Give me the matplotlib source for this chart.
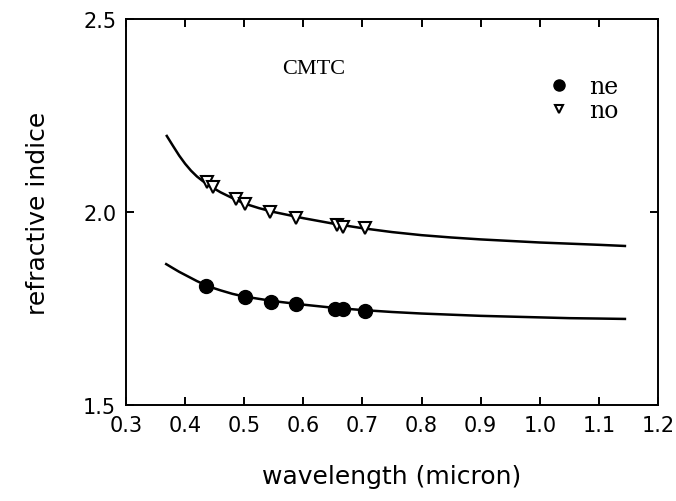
import matplotlib
matplotlib.use('Agg')

import matplotlib.pyplot as plt

# measured points
ne_x = [0.435, 0.501, 0.545, 0.588, 0.654, 0.667, 0.704]
ne_y = [1.808, 1.780, 1.767, 1.762, 1.749, 1.749, 1.744]
no_x = [0.437, 0.447, 0.486, 0.501, 0.544, 0.588, 0.657, 0.667, 0.704]
no_y = [2.078, 2.065, 2.034, 2.021, 2.000, 1.984, 1.966, 1.961, 1.959]

# fitted curves
fit_no_x = [0.369, 0.38, 0.39, 0.40, 0.41, 0.42, 0.43, 0.44, 0.46, 0.48, 0.50, 0.525,
            0.55, 0.60, 0.65, 0.70, 0.75, 0.80, 0.85, 0.90, 0.95, 1.00, 1.05, 1.10, 1.144]
fit_no_y = [2.197, 2.170, 2.146, 2.125, 2.107, 2.092, 2.080, 2.069, 2.051, 2.036, 2.022, 2.010,
            2.000, 1.984, 1.970, 1.958, 1.948, 1.940, 1.934, 1.929, 1.925, 1.921, 1.918, 1.915, 1.912]
fit_ne_x = [0.368, 0.38, 0.39, 0.40, 0.42, 0.44, 0.46, 0.48, 0.50, 0.55, 0.60, 0.65,
            0.70, 0.75, 0.80, 0.85, 0.90, 0.95, 1.00, 1.05, 1.10, 1.144]
fit_ne_y = [1.865, 1.854, 1.845, 1.837, 1.821, 1.807, 1.797, 1.788, 1.781, 1.769, 1.760, 1.752,
            1.746, 1.741, 1.737, 1.734, 1.731, 1.729, 1.727, 1.725, 1.724, 1.723]

x_ticks = [0.3, 0.4, 0.5, 0.6, 0.7, 0.8, 0.9, 1.0, 1.1, 1.2]
y_ticks = [1.5, 2.0, 2.5]

fig = plt.figure(figsize=(6.76, 5.02), dpi=100)
ax = fig.add_axes([0.1864, 0.1912, 0.787, 0.769])

ax.plot(fit_no_x, fit_no_y, 'k-', lw=1.8)
ax.plot(fit_ne_x, fit_ne_y, 'k-', lw=1.8)
ax.plot(ne_x, ne_y, 'ko', ms=10, ls='none', label='ne')
ax.plot(no_x, no_y, 'v', ms=8, mfc='white', mec='k', mew=1.5, ls='none', label='no')

ax.set_xlim(0.3, 1.2)
ax.set_ylim(1.5, 2.5)
ax.set_xticks(x_ticks)
ax.set_yticks(y_ticks)
ax.set_xticklabels(['%.1f' % t for t in x_ticks])
ax.set_yticklabels(['%.1f' % t for t in y_ticks])
ax.tick_params(direction='in', length=6, width=1.4, top=True, right=True,
               labelsize=15, pad=7)
for s in ax.spines.values():
    s.set_linewidth(1.4)

ax.set_xlabel('wavelength (micron)', fontsize=18, labelpad=21)
ax.set_ylabel('refractive indice', fontsize=18, labelpad=24)

ax.text(0.618, 2.373, 'CMTC', family='Liberation Serif', fontsize=16,
        ha='center', va='center')

leg = ax.legend(loc='upper left', bbox_to_anchor=(0.792, 0.855), frameon=False,
                handlelength=1, handletextpad=0.75, labelspacing=0.05,
                borderpad=0, borderaxespad=0,
                prop={'family': 'DejaVu Serif', 'size': 17})
leg.legend_handles[0].set_markersize(8)
leg.legend_handles[1].set_markersize(6)

fig.savefig('out.png', dpi=100)
